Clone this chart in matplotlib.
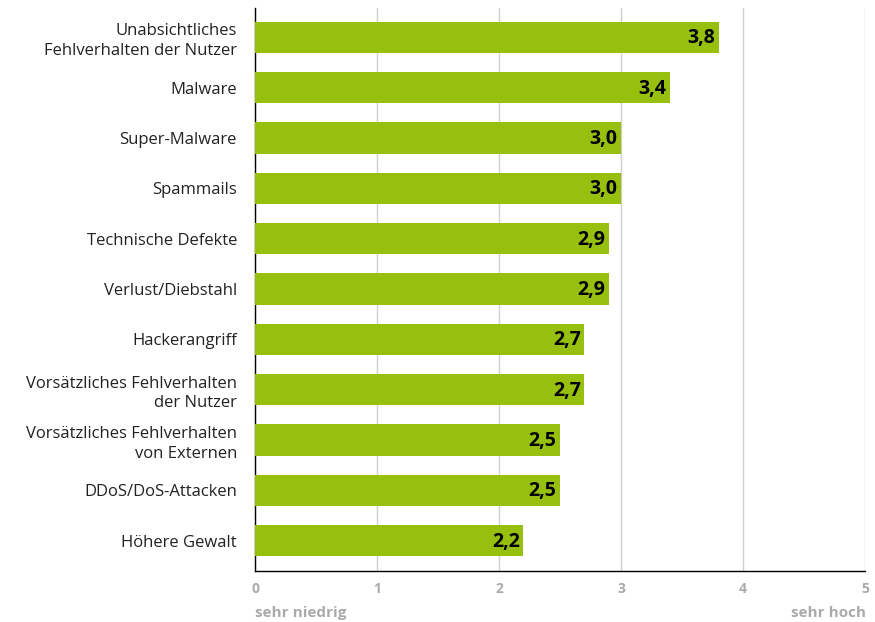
import matplotlib
matplotlib.use("Agg")
import matplotlib.pyplot as plt

categories = [
    "Unabsichtliches\nFehlverhalten der Nutzer",
    "Malware",
    "Super-Malware",
    "Spammails",
    "Technische Defekte",
    "Verlust/Diebstahl",
    "Hackerangriff",
    "Vorsätzliches Fehlverhalten\nder Nutzer",
    "Vorsätzliches Fehlverhalten\nvon Externen",
    "DDoS/DoS-Attacken",
    "Höhere Gewalt",
]
values = [3.8, 3.4, 3.0, 3.0, 2.9, 2.9, 2.7, 2.7, 2.5, 2.5, 2.2]
xticks = [0, 1, 2, 3, 4, 5]

plt.rcParams['font.family'] = ['Open Sans', 'DejaVu Sans']

fig = plt.figure(figsize=(8.75, 6.22), dpi=100)
ax = fig.add_axes([255/875, 1-571/622, 610/875, (571-8)/622])

y = list(range(len(categories)))
ax.barh(y, values, height=0.62, color="#97BF0D", zorder=3)
for yi, v in zip(y, values):
    ax.text(v - 0.03, yi + 0.02, f"{v:.1f}".replace(".", ","), ha="right", va="center",
            fontsize=14, fontweight="bold", color="black", zorder=4)

ax.set_xlim(0, 5)
ax.set_ylim(10.6, -0.58)
ax.set_xticks(xticks)
ax.set_xticklabels([str(t) for t in xticks], color="#aaaaaa", fontsize=10, fontweight="bold")
ax.set_yticks(y)
ax.set_yticklabels(categories, fontsize=12, color="#222222", linespacing=1.3)
ax.tick_params(axis="y", length=0, pad=13)
ax.tick_params(axis="x", length=0, pad=8)
ax.grid(axis="x", color="#d0d0d0", linewidth=1, zorder=0)
for s in ["top", "right"]:
    ax.spines[s].set_visible(False)
ax.spines["left"].set_color("black")
ax.spines["bottom"].set_color("black")
ax.spines["left"].set_linewidth(1)
ax.spines["bottom"].set_linewidth(1)

fig.text(255/875, 1-613/622, "sehr niedrig", ha="left", va="center",
         fontsize=11, fontweight="bold", color="#aaaaaa")
fig.text(866/875, 1-613/622, "sehr hoch", ha="right", va="center",
         fontsize=11, fontweight="bold", color="#aaaaaa")

fig.savefig("out.png", dpi=100)
